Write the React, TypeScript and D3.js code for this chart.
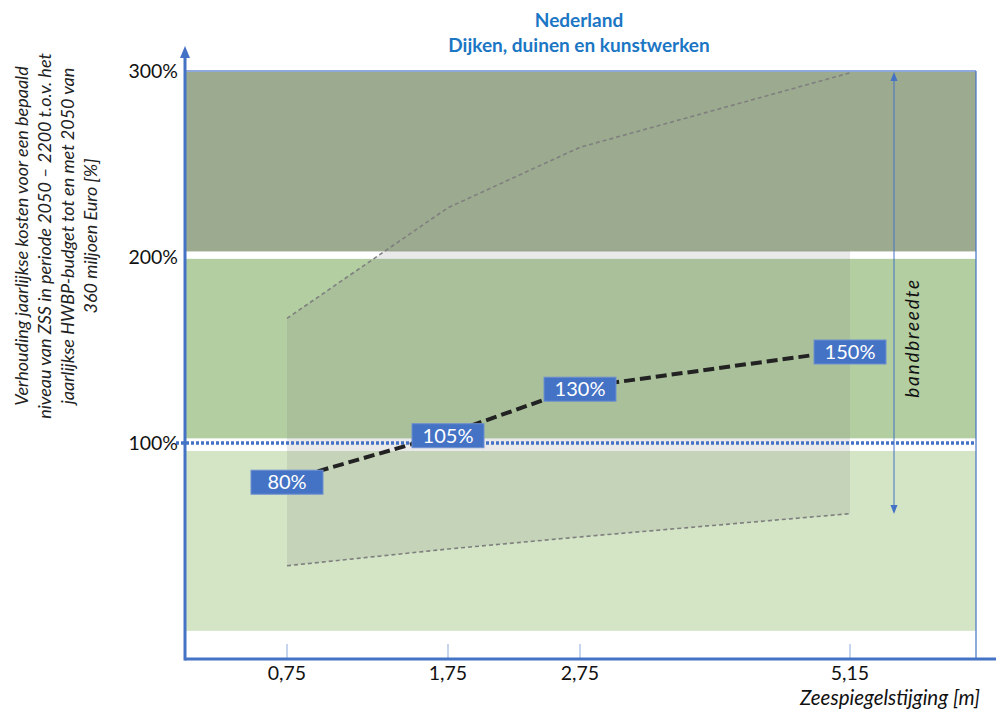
import React from 'react';
import * as d3 from 'd3';

// data
const xTicks = [0.75, 1.75, 2.75, 5.15];
const xTickLabels = ['0,75', '1,75', '2,75', '5,15'];
const centralValues = [80, 105, 130, 150];
const centralLabels = ['80%', '105%', '130%', '150%'];
const upperValues = [167, 226.5, 259, 299];
const lowerValues = [34, 43, 49.5, 62];
const yTicks = [100, 200, 300];
const yTickLabels = ['100%', '200%', '300%'];
const bandFrom = [203, 102.5, -1];
const bandTo = [300, 199, 95.7];
const bandColors = ['#9caa90', '#b3cea1', '#d4e5c6'];

const W = 996;
const H = 709;
const left = 185;
const right = 976;
const axisY = 659;

const App: React.FC = () => {
  // the x axis in the original is not to scale: piecewise mapping per tick
  const x = d3.scaleLinear().domain(xTicks).range([287, 448, 580, 850]);
  const y = d3.scaleLinear().domain([0, 300]).range([629, 71]);

  const pts = (vals: number[]) => xTicks.map((t, i) => [x(t), y(vals[i])] as [number, number]);

  const upperLine = d3.line()(pts(upperValues)) || '';
  const lowerLine = d3.line()(pts(lowerValues)) || '';
  const centralLine = d3.line()(pts(centralValues)) || '';

  const area = d3.area<number>()
    .x((_, i) => x(xTicks[i]))
    .y0((_, i) => y(lowerValues[i]))
    .y1((_, i) => y(upperValues[i]))(upperValues.map((_, i) => i)) || '';

  const blue = '#4472c4';
  const arrowX = 894;

  return (
    <svg width={W} height={H} style={{ position: 'absolute', left: 0, top: 0, fontFamily: 'Lato, sans-serif' }}>
      <defs>
        <clipPath id="grayClip">
          <rect x={left} y={y(203.5)} width={right - left} height={axisY - y(203.5)} />
        </clipPath>
      </defs>
      <rect x={0} y={0} width={W} height={H} fill="#fff" />

      {/* title */}
      <text x={579} y={27} textAnchor="middle" fill="#1b76c4" fontWeight="bold" fontSize={19}>Nederland</text>
      <text x={579} y={52} textAnchor="middle" fill="#1b76c4" fontWeight="bold" fontSize={19}>Dijken, duinen en kunstwerken</text>

      {/* bands */}
      {bandFrom.map((f, i) => (
        <rect key={i} x={left} y={y(bandTo[i])} width={right - left} height={y(f) - y(bandTo[i])} fill={bandColors[i]} />
      ))}

      {/* uncertainty area */}
      <path d={area} fill="rgba(120,120,120,0.16)" clipPath="url(#grayClip)" />

      {/* 100% reference */}
      <line x1={176} x2={right} y1={y(100)} y2={y(100)} stroke={blue} strokeWidth={3.5} strokeDasharray="3,2" />

      {/* bounds */}
      <path d={upperLine} fill="none" stroke="#7f7f7f" strokeWidth={1.6} strokeDasharray="4,3" />
      <path d={lowerLine} fill="none" stroke="#7f7f7f" strokeWidth={1.6} strokeDasharray="4,3" />

      {/* central estimate */}
      <path d={centralLine} fill="none" stroke="#222" strokeWidth={4} strokeDasharray="11,5" />
      {centralValues.map((v, i) => (
        <g key={i} transform={`translate(${x(xTicks[i])},${y(v) + 2})`}>
          <rect x={-36} y={-12} width={72} height={24} fill={blue} stroke="#6f8fd0" strokeWidth={1} />
          <text x={0} y={7} textAnchor="middle" fill="#fff" fontSize={20}>{centralLabels[i]}</text>
        </g>
      ))}

      {/* frame */}
      <line x1={left} x2={right} y1={y(300)} y2={y(300)} stroke="#8ea9db" strokeWidth={2} />
      <line x1={right} x2={right} y1={y(300)} y2={axisY} stroke={blue} strokeWidth={1.2} />

      {/* bandbreedte arrow */}
      <line x1={arrowX} x2={arrowX} y1={78} y2={508} stroke={blue} strokeWidth={1} />
      <path d={`M${arrowX - 3.5},${81} L${arrowX},${72} L${arrowX + 3.5},${81} Z`} fill={blue} />
      <path d={`M${arrowX - 3.5},${505} L${arrowX},${514} L${arrowX + 3.5},${505} Z`} fill={blue} />
      <text transform={`translate(919,${338}) rotate(-90)`} textAnchor="middle" fontStyle="italic" fontSize={19} fill="#111" letterSpacing={1.8}>bandbreedte</text>

      {/* x ticks */}
      {xTicks.map((t, i) => (
        <g key={i}>
          <line x1={x(t)} x2={x(t)} y1={644} y2={axisY} stroke="#8ea9db" strokeWidth={1} />
          <text x={x(t)} y={680} textAnchor="middle" fontSize={19.5} fill="#111">{xTickLabels[i]}</text>
        </g>
      ))}
      <text x={980} y={705} textAnchor="end" fontStyle="italic" fontSize={20.5} fill="#111">Zeespiegelstijging [m]</text>

      {/* axes */}
      <line x1={left} x2={W} y1={axisY} y2={axisY} stroke={blue} strokeWidth={3} />
      <line x1={left} x2={left} y1={axisY + 1.5} y2={56} stroke={blue} strokeWidth={3} />
      <path d={`M${left - 5},${58} L${left},${46} L${left + 5},${58} Z`} fill={blue} />

      {/* y ticks */}
      {yTicks.map((t, i) => (
        <text key={t} x={178} y={y(t) + 7} textAnchor="end" fontSize={19.5} fill="#111">{yTickLabels[i]}</text>
      ))}

      {/* y title */}
      <text transform="translate(0,236) rotate(-90)" textAnchor="middle" fontStyle="italic" fontSize={18} fill="#222">
        <tspan x={0} y={28}>Verhouding jaarlijkse kosten voor een bepaald</tspan>
        <tspan x={0} y={51}>niveau van ZSS in periode 2050 – 2200 t.o.v. het</tspan>
        <tspan x={0} y={74}>jaarlijkse HWBP-budget tot en met 2050 van</tspan>
        <tspan x={0} y={97}>360 miljoen Euro [%]</tspan>
      </text>
    </svg>
  );
};

export default App;
